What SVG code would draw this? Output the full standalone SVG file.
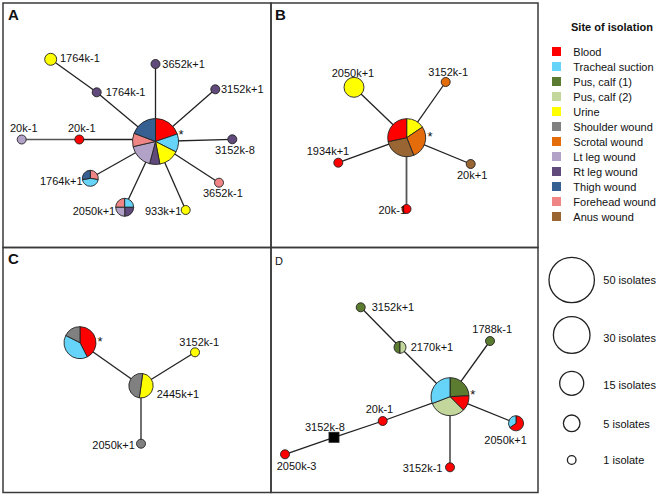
<svg xmlns="http://www.w3.org/2000/svg" width="662" height="496" viewBox="0 0 662 496">
<style>
text{font-family:"Liberation Sans",Arial,sans-serif;font-size:11px;fill:#111}
.pl{font-size:15px;font-weight:bold}
.tt{font-weight:bold}
.fr{fill:none;stroke:#3a3a3a;stroke-width:1.5}
.ln line{stroke:#222;stroke-width:1.3}
circle,path,rect.n{stroke:#222;stroke-width:0.9}
.lg{fill:none;stroke:#222;stroke-width:1.3}
.bl{fill:#ff0000}.tr{fill:#66d4f8}.p1{fill:#5b7b31}.p2{fill:#c3d79c}.ur{fill:#ffff00}
.sh{fill:#808080}.sc{fill:#e46c0a}.ll{fill:#b3a2c7}.rl{fill:#604a7b}.th{fill:#366092}
.fh{fill:#f08585}.an{fill:#996633}
.ast{font-size:13px}
</style>
<g id="frames">
<rect class="fr" x="3" y="3" width="268" height="244.5"/>
<rect class="fr" x="271" y="3" width="267" height="244.5"/>
<rect class="fr" x="3" y="247.5" width="268" height="245"/>
<rect class="fr" x="271" y="247.5" width="267" height="245"/>
</g>
<g id="panel-labels">
<text class="pl" x="8" y="20">A</text>
<text class="pl" x="275" y="20">B</text>
<text class="pl" x="8" y="264">C</text>
<text x="275" y="265">D</text>
</g>
<g id="connectors" class="ln">
<line x1="155.5" y1="141.5" x2="96.7" y2="92.3"/>
<line x1="96.7" y1="92.3" x2="50.7" y2="59.3"/>
<line x1="155.5" y1="141.5" x2="155.5" y2="64"/>
<line x1="155.5" y1="141.5" x2="215.3" y2="89.3"/>
<line x1="155.5" y1="141.5" x2="232.3" y2="139.3"/>
<line x1="155.5" y1="141.5" x2="219" y2="182.7"/>
<line x1="155.5" y1="141.5" x2="185.7" y2="210"/>
<line x1="155.5" y1="141.5" x2="124.7" y2="207.3"/>
<line x1="155.5" y1="141.5" x2="90.3" y2="178.3"/>
<line x1="155.5" y1="139.5" x2="79.3" y2="139.5"/>
<line x1="79.3" y1="139.5" x2="21.7" y2="139.5" style="stroke:#555;stroke-width:1.6"/>
<line x1="406.7" y1="137.7" x2="354" y2="87.3"/>
<line x1="406.7" y1="137.7" x2="445.7" y2="82"/>
<line x1="406.7" y1="137.7" x2="338.3" y2="162.7"/>
<line x1="406.7" y1="137.7" x2="470.7" y2="164"/>
<line x1="406.5" y1="137.7" x2="406.5" y2="209" style="stroke:#555;stroke-width:1.8"/>
<line x1="80" y1="342.7" x2="141" y2="385.7"/>
<line x1="141" y1="385.7" x2="195" y2="352.3"/>
<line x1="141" y1="385.7" x2="141" y2="443.7"/>
<line x1="450" y1="396.7" x2="400" y2="347.3"/>
<line x1="400" y1="347.3" x2="360.7" y2="307.3"/>
<line x1="450" y1="396.7" x2="490" y2="341"/>
<line x1="450" y1="396.7" x2="516" y2="423.3"/>
<line x1="450" y1="396.7" x2="450" y2="467.3"/>
<line x1="450" y1="396.7" x2="382.7" y2="421"/>
<line x1="382.7" y1="421" x2="334" y2="437.3"/>
<line x1="334" y1="437.3" x2="285" y2="454.3"/>
</g>
<g id="A-center">
<path class="bl" d="M155.5,141.5 L155.5,118.5 A23,23 0 0 1 177.25,134.01 Z"/>
<path class="tr" d="M155.5,141.5 L177.25,134.01 A23,23 0 0 1 175.99,151.94 Z"/>
<path class="ur" d="M155.5,141.5 L175.99,151.94 A23,23 0 0 1 159.89,164.08 Z"/>
<path class="rl" d="M155.5,141.5 L159.89,164.08 A23,23 0 0 1 149.55,163.72 Z"/>
<path class="ll" d="M155.5,141.5 L149.55,163.72 A23,23 0 0 1 133.09,146.67 Z"/>
<path class="fh" d="M155.5,141.5 L133.09,146.67 A23,23 0 0 1 134.03,133.26 Z"/>
<path class="th" d="M155.5,141.5 L134.03,133.26 A23,23 0 0 1 155.5,118.5 Z"/>
<text class="ast" x="181" y="138.5" text-anchor="middle">*</text>
</g>
<g id="A-1764k-1-yellow"><circle class="ur" cx="50.7" cy="59.3" r="6"/><text x="60" y="61.5">1764k-1</text></g>
<g id="A-1764k-1-purple"><circle class="rl" cx="96.7" cy="92.3" r="4.5"/><text x="105.7" y="95.5">1764k-1</text></g>
<g id="A-3652k+1"><circle class="rl" cx="155.5" cy="64" r="4.5"/><text x="162.3" y="68">3652k+1</text></g>
<g id="A-3152k+1"><circle class="rl" cx="215.3" cy="89.3" r="4.5"/><text x="221" y="93">3152k+1</text></g>
<g id="A-3152k-8"><circle class="rl" cx="232.3" cy="139.3" r="4.5"/><text x="215" y="154">3152k-8</text></g>
<g id="A-3652k-1"><circle class="fh" cx="219" cy="182.7" r="4.5"/><text x="203" y="196.5">3652k-1</text></g>
<g id="A-933k+1"><circle class="ur" cx="185.7" cy="210" r="4.5"/><text x="145" y="214.5">933k+1</text></g>
<g id="A-2050k+1">
<path class="fh" d="M124.7,207.3 L115.7,207.3 A9,9 0 0 1 124.7,198.3 Z"/>
<path class="tr" d="M124.7,207.3 L124.7,198.3 A9,9 0 0 1 133.7,207.3 Z"/>
<path class="rl" d="M124.7,207.3 L133.7,207.3 A9,9 0 0 1 124.7,216.3 Z"/>
<path class="ll" d="M124.7,207.3 L124.7,216.3 A9,9 0 0 1 115.7,207.3 Z"/>
<text x="72.7" y="214.5">2050k+1</text>
</g>
<g id="A-1764k+1">
<path class="fh" d="M90.3,178.3 L90.3,170.3 A8,8 0 0 1 98.18,179.69 Z"/>
<path class="tr" d="M90.3,178.3 L98.18,179.69 A8,8 0 0 1 82.42,179.69 Z"/>
<path class="th" d="M90.3,178.3 L82.42,179.69 A8,8 0 0 1 90.3,170.3 Z"/>
<text x="40" y="185">1764k+1</text>
</g>
<g id="A-20k-1-red"><circle class="bl" cx="79.3" cy="139.5" r="4.5"/><text x="68" y="131.5">20k-1</text></g>
<g id="A-20k-1-lilac"><circle class="ll" cx="21.7" cy="139.5" r="4.5"/><text x="10" y="131.5">20k-1</text></g>

<g id="B-center">
<path class="ur" d="M406.7,137.7 L406.7,118.7 A19,19 0 0 1 422.45,127.08 Z"/>
<path class="sc" d="M406.7,137.7 L422.45,127.08 A19,19 0 0 1 413.82,155.32 Z"/>
<path class="an" d="M406.7,137.7 L413.82,155.32 A19,19 0 0 1 388.12,141.65 Z"/>
<path class="bl" d="M406.7,137.7 L388.12,141.65 A19,19 0 0 1 406.7,118.7 Z"/>
<text class="ast" x="430" y="141" text-anchor="middle">*</text>
</g>
<g id="B-2050k+1"><circle class="ur" cx="354" cy="87.3" r="10"/><text x="331.7" y="76.5">2050k+1</text></g>
<g id="B-3152k-1"><circle class="sc" cx="445.7" cy="82" r="4.5"/><text x="428.3" y="76">3152k-1</text></g>
<g id="B-1934k+1"><circle class="bl" cx="338.3" cy="162.7" r="4.5"/><text x="306.7" y="154.5">1934k+1</text></g>
<g id="B-20k+1"><circle class="an" cx="470.7" cy="164" r="4.5"/><text x="457" y="179">20k+1</text></g>
<g id="B-20k-1"><circle class="bl" cx="406.5" cy="209" r="4.5"/><text x="378.5" y="214">20k-1</text></g>

<g id="C-center">
<path class="bl" d="M80,342.7 L80,326.7 A16,16 0 0 1 87.26,356.96 Z"/>
<path class="tr" d="M80,342.7 L87.26,356.96 A16,16 0 0 1 65.74,335.44 Z"/>
<path class="sh" d="M80,342.7 L65.74,335.44 A16,16 0 0 1 80,326.7 Z"/>
<text class="ast" x="100" y="346" text-anchor="middle">*</text>
</g>
<g id="C-2445k+1">
<path class="ur" d="M141,385.7 L142.71,373.52 A12.3,12.3 0 0 1 139.29,397.88 Z"/>
<path class="sh" d="M141,385.7 L139.29,397.88 A12.3,12.3 0 0 1 142.71,373.52 Z"/>
<text x="156.7" y="398">2445k+1</text>
</g>
<g id="C-3152k-1"><circle class="ur" cx="195" cy="352.3" r="4.5"/><text x="179.3" y="345.5">3152k-1</text></g>
<g id="C-2050k+1"><circle class="sh" cx="141" cy="443.7" r="4.5"/><text x="92.3" y="449">2050k+1</text></g>

<g id="D-center">
<path class="p1" d="M450,396.7 L450,377.7 A19,19 0 0 1 468.97,395.71 Z"/>
<path class="bl" d="M450,396.7 L468.97,395.71 A19,19 0 0 1 463.43,410.13 Z"/>
<path class="p2" d="M450,396.7 L463.43,410.13 A19,19 0 0 1 432.26,403.51 Z"/>
<path class="tr" d="M450,396.7 L432.26,403.51 A19,19 0 0 1 450,377.7 Z"/>
<text class="ast" x="472.7" y="398.7" text-anchor="middle">*</text>
</g>
<g id="D-3152k+1"><circle class="p1" cx="360.7" cy="307.3" r="4.5"/><text x="371.7" y="311">3152k+1</text></g>
<g id="D-2170k+1">
<path class="p1" d="M400,341.3 A6,6 0 0 0 400,353.3 Z"/>
<path class="p2" d="M400,341.3 A6,6 0 0 1 400,353.3 Z"/>
<text x="410.7" y="350.5">2170k+1</text>
</g>
<g id="D-1788k-1"><circle class="p1" cx="490" cy="341" r="4.5"/><text x="472.3" y="333">1788k-1</text></g>
<g id="D-2050k+1">
<path class="bl" d="M516,423.3 L516,415.8 A7.5,7.5 0 1 1 509.86,427.6 Z"/>
<path class="tr" d="M516,423.3 L509.86,427.6 A7.5,7.5 0 0 1 516,415.8 Z"/>
<text x="484.3" y="444">2050k+1</text>
</g>
<g id="D-3152k-1"><circle class="bl" cx="450" cy="467.3" r="4.5"/><text x="402.7" y="471.5">3152k-1</text></g>
<g id="D-20k-1"><circle class="bl" cx="382.7" cy="421" r="4.5"/><text x="365.7" y="413">20k-1</text></g>
<g id="D-3152k-8"><rect class="n" x="329" y="432.3" width="10" height="10" fill="#000"/><text x="305" y="431">3152k-8</text></g>
<g id="D-2050k-3"><circle class="bl" cx="285" cy="454.3" r="4.5"/><text x="276.7" y="470">2050k-3</text></g>

<g id="legend-site">
<text class="tt" x="571" y="31">Site of isolation</text>
<rect class="bl" x="552" y="47" width="9" height="9"/><text x="573.3" y="55.5">Blood</text>
<rect class="tr" x="552" y="62" width="9" height="9"/><text x="573.3" y="70.5">Tracheal suction</text>
<rect class="p1" x="552" y="77" width="9" height="9"/><text x="573.3" y="85.5">Pus, calf (1)</text>
<rect class="p2" x="552" y="92" width="9" height="9"/><text x="573.3" y="100.5">Pus, calf (2)</text>
<rect class="ur" x="552" y="107" width="9" height="9"/><text x="573.3" y="115.5">Urine</text>
<rect class="sh" x="552" y="122" width="9" height="9"/><text x="573.3" y="130.5">Shoulder wound</text>
<rect class="sc" x="552" y="137" width="9" height="9"/><text x="573.3" y="145.5">Scrotal wound</text>
<rect class="ll" x="552" y="152" width="9" height="9"/><text x="573.3" y="160.5">Lt leg wound</text>
<rect class="rl" x="552" y="167" width="9" height="9"/><text x="573.3" y="175.5">Rt leg wound</text>
<rect class="th" x="552" y="182" width="9" height="9"/><text x="573.3" y="190.5">Thigh wound</text>
<rect class="fh" x="552" y="197" width="9" height="9"/><text x="573.3" y="205.5">Forehead wound</text>
<rect class="an" x="552" y="212" width="9" height="9"/><text x="573.3" y="220.5">Anus wound</text>
</g>
<g id="legend-size">
<circle class="lg" cx="571.7" cy="280" r="22.7"/><text x="603.3" y="284">50 isolates</text>
<circle class="lg" cx="571.7" cy="335" r="18.3"/><text x="603.3" y="342">30 isolates</text>
<circle class="lg" cx="571.7" cy="383.3" r="12"/><text x="603.3" y="389">15 isolates</text>
<circle class="lg" cx="571.7" cy="423.3" r="8.3"/><text x="603.3" y="428">5 isolates</text>
<circle class="lg" cx="571.7" cy="460" r="4.3"/><text x="603.3" y="464">1 isolate</text>
</g>
</svg>
